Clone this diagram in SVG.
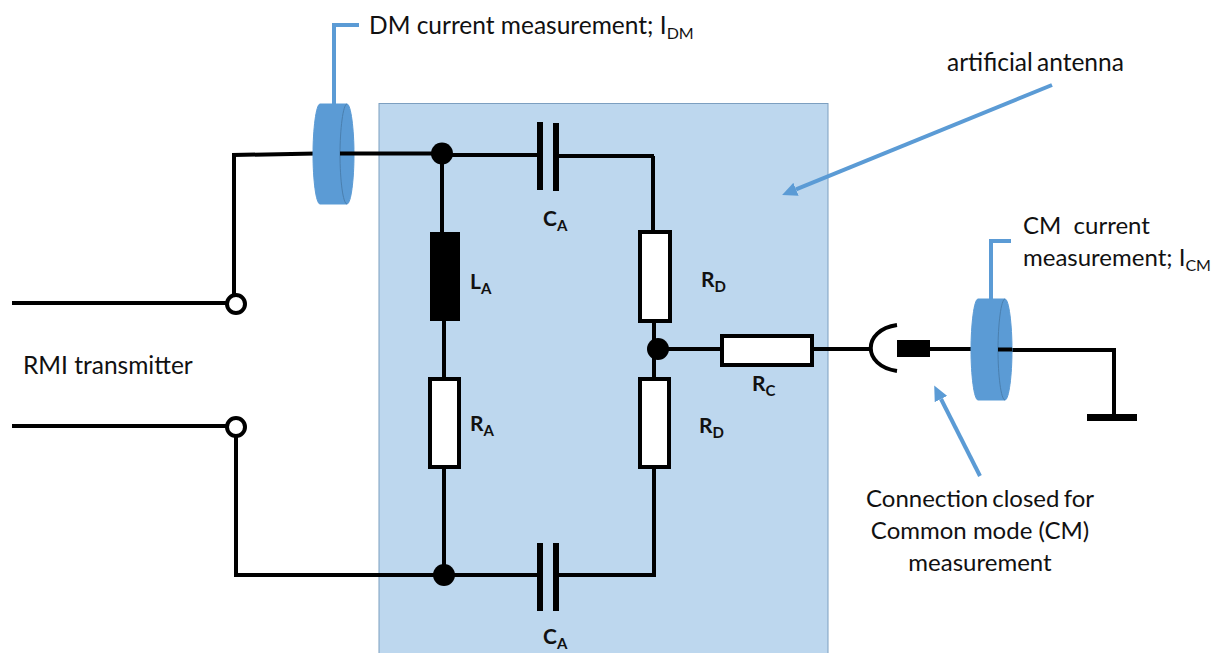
<svg xmlns="http://www.w3.org/2000/svg" width="1218" height="653" viewBox="0 0 1218 653">
<style>
text{font-family:Lato,"Open Sans",sans-serif;font-size:24.5px;fill:#111}
.m{font-size:24px}
.b{font-weight:700;font-size:21px}
.w{fill:none;stroke:#000;stroke-width:4}
.r{fill:#fff;stroke:#000;stroke-width:4}
.l{fill:none;stroke:#5b9bd5;stroke-width:4}
.t{fill:#5b9bd5;stroke:#5b9bd5;stroke-width:1}
.e{fill:none;stroke:#4a7fae;stroke-width:1}
.c{fill:none;stroke:#000;stroke-width:6}
</style>
<defs>
<marker id="a" markerUnits="userSpaceOnUse" markerWidth="16" markerHeight="14" refX="0" refY="7" orient="auto"><path d="M0 0L15 7L0 14Z" fill="#5b9bd5"/></marker>
</defs>
<g id="antenna-box"><rect x="379" y="103.500" width="449" height="560" fill="#bdd7ee" stroke="#7c9fc0" stroke-width="1"/></g>
<g id="connectors">
<path class="w" d="M234 303V155L316 153.500M442 155H540M442 155V240M444 320V380M444 466V575M654 156H556M653 156V232M654 320V380M654 466V575H556M540 575H236V427M654 349H724M810 349H872M930 349H974M1000 350H1114V416"/>
<path class="w" d="M12 303H226M12 426H226"/>
<path class="l" d="M334 104V25H359M991 300V241H1011"/>
<path class="l" d="M1052 85L796 189.300" marker-end="url(#a)"/>
<path class="l" d="M980 476L941 399" marker-end="url(#a)"/>
</g>
<g id="DM-transformer"><path class="t" d="M320 104H347C351 104 354 130 354 154C354 180 351 204 347 204H320C316 204 313 180 313 154C313 130 316 104 320 104Z"/><path class="e" d="M347 104C343 104 340 130 340 154C340 180 343 204 347 204"/><path class="w" d="M340 153.500H442"/></g>
<g id="C1"><path class="c" d="M540 122V190M556 123V191"/></g>
<g id="C2"><path class="c" d="M540 543V611M556 543V611"/></g>
<g id="LA"><rect x="430" y="232" width="30" height="89" fill="#000"/></g>
<g id="RA"><rect class="r" x="430" y="379" width="29" height="88"/></g>
<g id="RD1"><rect class="r" x="640" y="232" width="30" height="89"/></g>
<g id="RD2"><rect class="r" x="640" y="379" width="29" height="88"/></g>
<g id="RC"><rect class="r" x="722" y="336" width="90" height="29"/></g>
<g id="junctions"><circle cx="442" cy="153.500" r="11"/><circle cx="658" cy="349" r="11"/><circle cx="444" cy="575" r="11"/></g>
<g id="terminals"><circle class="r" cx="236" cy="304" r="9"/><circle class="r" cx="236" cy="427" r="9"/></g>
<g id="connector-CM"><path class="w" d="M897 325C862 330 862 366 897 371"/><rect x="897" y="340" width="33" height="17" fill="#000"/></g>
<g id="CM-transformer"><path class="t" d="M978 299H1005C1009 299 1012 325 1012 350C1012 375 1009 400 1005 400H978C974 400 971 375 971 350C971 325 974 299 978 299Z"/><path class="e" d="M1005 299C1001 299 998 325 998 350C998 375 1001 400 1005 400"/><path class="w" d="M998 349.500H1012"/></g>
<g id="ground"><path d="M1087 414H1137V421H1087Z"/></g>
<g id="labels">
<text x="369" y="34">DM current measurement; I<tspan font-size="16" dy="5">DM</tspan></text>
<text x="947" y="71" word-spacing="-2">artificial antenna</text>
<text class="m" x="1023" y="234" style="white-space:pre">CM  current</text>
<text class="m" x="1023" y="266">measurement; I<tspan font-size="16" dy="5">CM</tspan></text>
<text x="23" y="374">RMI transmitter</text>
<text class="m" x="980" y="507" text-anchor="middle" word-spacing="-2">Connection closed for</text>
<text class="m" x="980" y="539" text-anchor="middle">Common mode (CM)</text>
<text class="m" x="980" y="571" text-anchor="middle">measurement</text>
<text class="b" x="543" y="226">C<tspan font-size="15" dy="5">A</tspan></text>
<text class="b" x="543" y="644">C<tspan font-size="15" dy="5">A</tspan></text>
<text class="b" x="470" y="289">L<tspan font-size="15" dy="5">A</tspan></text>
<text class="b" x="470" y="431">R<tspan font-size="15" dy="5">A</tspan></text>
<text class="b" x="701" y="287">R<tspan font-size="15" dy="5">D</tspan></text>
<text class="b" x="699" y="433">R<tspan font-size="15" dy="5">D</tspan></text>
<text class="b" x="752" y="391">R<tspan font-size="15" dy="5">C</tspan></text>
</g>
</svg>
